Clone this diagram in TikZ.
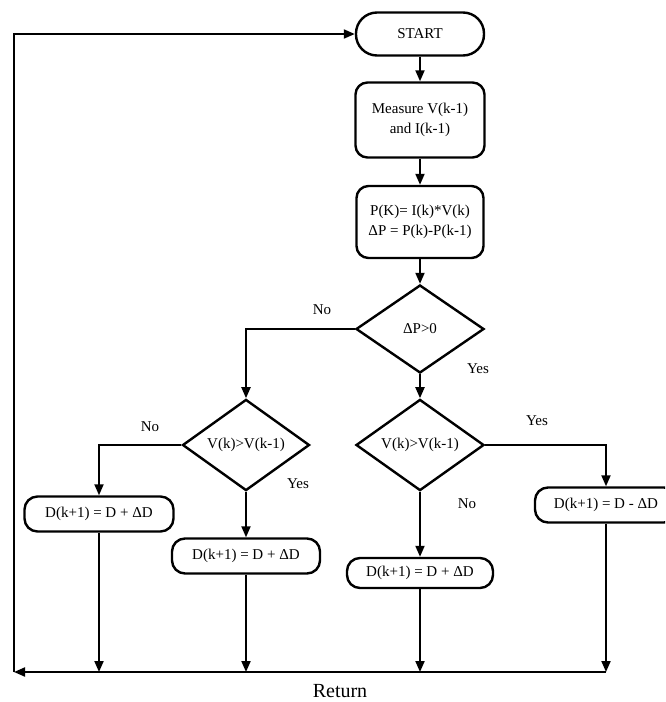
\documentclass[tikz,border=0pt]{standalone}
\usepackage{fontspec}
\setmainfont{Liberation Serif}
\usetikzlibrary{shapes.geometric,arrows.meta}
\begin{document}
\begin{tikzpicture}[x=1pt,y=-1pt,
  every node/.style={font=\fontsize{15}{20}\selectfont},
  box/.style={draw,line width=2.4pt,rounded corners=12pt,align=center,inner sep=0pt},
  dbox/.style={draw,line width=2.4pt,rounded corners=13pt,align=center,inner sep=0pt,minimum height=35pt},
  dec/.style={draw,diamond,line width=2.4pt,inner sep=0pt,align=center},
  lab/.style={inner sep=0pt},
  conn/.style={line width=2pt,-{Triangle[length=11pt,width=9pt]}},
  line/.style={line width=2pt}]
\useasboundingbox (0,0) rectangle (665,702);
\begin{scope}
\clip (0,0) rectangle (665,702);
\node[box,rounded corners=21pt,minimum width=128pt,minimum height=43pt] (start) at (420,34) {START};
\node[box,minimum width=129pt,minimum height=75pt] (meas) at (420,120) {Measure V(k-1)\\and I(k-1)};
\node[box,minimum width=127pt,minimum height=72pt] (pk) at (420,222) {P(K)= I(k)*V(k)\\ΔP = P(k)-P(k-1)};
\node[dec,minimum width=128pt,minimum height=88pt] (d1) at (420,329) {ΔP>0};
\node[dec,minimum width=127pt,minimum height=86pt] (d2) at (246,445) {V(k)>V(k-1)};
\node[dec,minimum width=128pt,minimum height=86pt] (d3) at (420,445) {V(k)>V(k-1)};
\node[dbox,minimum width=149pt] (b1) at (99,514) {D(k+1) = D + ΔD};
\node[dbox,minimum width=148pt] (b2) at (246,556) {D(k+1) = D + ΔD};
\node[dbox,minimum width=146pt,minimum height=30pt] (b3) at (420,573) {D(k+1) = D + ΔD};
\node[dbox,minimum width=142pt] (b4) at (606,505) {D(k+1) = D - ΔD};
\end{scope}
\node[lab] (l1) at (322,310) {No};
\node[lab] (l2) at (478,369) {Yes};
\node[lab] (l3) at (150,427) {No};
\node[lab] (l4) at (298,484) {Yes};
\node[lab] (l5) at (467,504) {No};
\node[lab] (l6) at (537,421) {Yes};
\node[lab,font=\fontsize{20}{23}\selectfont] (ret) at (340,691) {Return};
\coordinate (c0) at (14,672);
\coordinate (c4) at (606,672);
\draw[conn] (start) -- (meas);
\draw[conn] (meas) -- (pk);
\draw[conn] (pk) -- (d1);
\draw[conn] (d1) -- (d3);
\draw[conn] (d1.west) -| (d2.north);
\draw[conn] (d2.west) -| (b1.north);
\draw[conn] (d2) -- (b2);
\draw[conn] (d3) -- (b3);
\draw[conn] (d3.east) -| (b4.north);
\draw[conn] (b1) -- (b1 |- c0);
\draw[conn] (b2) -- (b2 |- c0);
\draw[conn] (b3) -- (b3 |- c0);
\draw[conn] (b4) -- (c4);
\draw[conn] (c4) -- (c0);
\draw[conn] (c0) |- (start.west);
\end{tikzpicture}
\end{document}
